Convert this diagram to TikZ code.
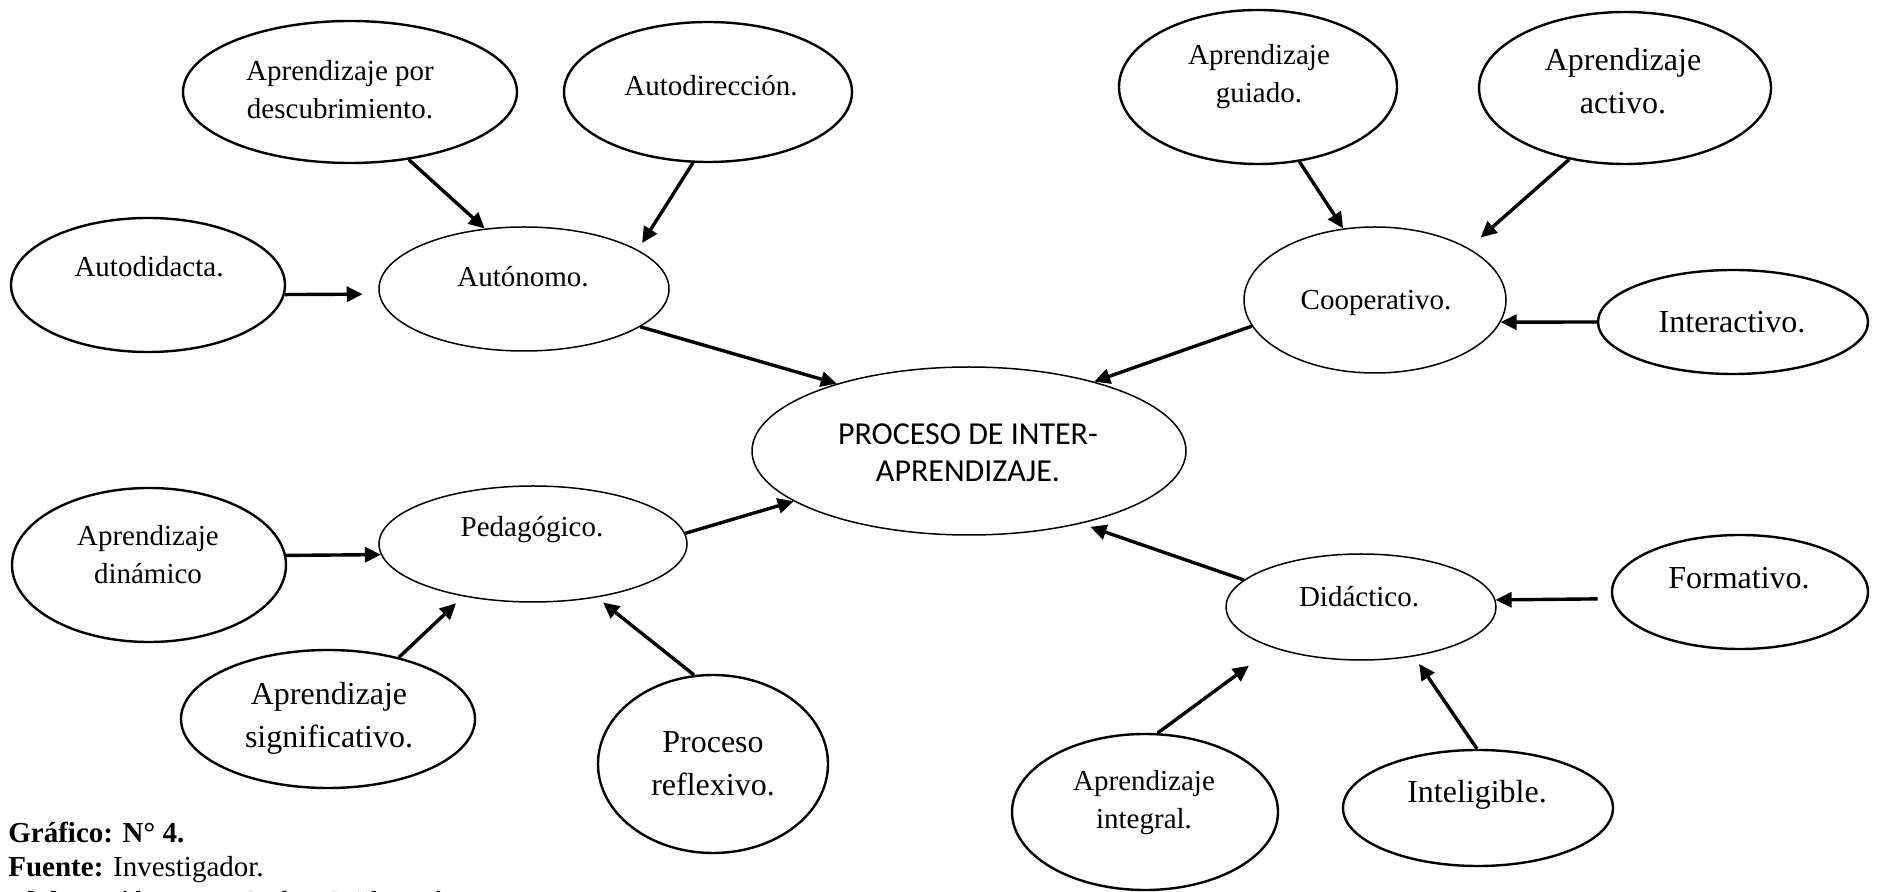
\documentclass[tikz,border=0pt]{standalone}
\usepackage{fontspec}
\setmainfont{Liberation Serif}
\newfontfamily\calib{Carlito}
\usetikzlibrary{shapes.geometric,arrows.meta}
\begin{document}
\begin{tikzpicture}[x=0.5pt,y=-0.5pt,
  ell/.style={draw, ellipse, inner sep=0pt, line width=1.2pt},
  ellthin/.style={ell, line width=0.75pt},
  lbl/.style={align=center, font=\fontsize{14.5}{19}\selectfont, inner sep=0pt},
  lblbig/.style={align=center, font=\fontsize{16}{21.5}\selectfont, inner sep=0pt},
  captext/.style={anchor=base west, inner sep=0pt, font=\fontsize{14.5}{17}\selectfont},
  arr/.style={line width=1.7pt, -{Triangle[length=8pt,width=7.5pt]}},
]
\fill[white] (0,0) rectangle (1881,892);
\useasboundingbox (0,0) rectangle (1881,892);

% ellipses
\node[ell, minimum width=167pt, minimum height=71pt] (desc) at (350,92) {};
\node[ell, minimum width=144pt, minimum height=70pt] (autodir) at (708,92) {};
\node[ell, minimum width=137pt, minimum height=67pt] (autodid) at (148,285) {};
\node[ellthin, minimum width=145pt, minimum height=62pt] (auto) at (524,289) {};
\node[ell, minimum width=139pt, minimum height=77pt] (guiado) at (1258,87) {};
\node[ell, minimum width=146pt, minimum height=76pt] (activo) at (1625,88) {};
\node[ellthin, minimum width=131pt, minimum height=73pt] (coop) at (1375,300) {};
\node[ell, minimum width=135pt, minimum height=52pt] (inter) at (1733,322) {};
\node[ellthin, minimum width=217pt, minimum height=84pt] (centro) at (969,451) {};
\node[ell, minimum width=137pt, minimum height=77pt] (din) at (149,565) {};
\node[ellthin, minimum width=154pt, minimum height=58pt] (ped) at (533,544) {};
\node[ell, minimum width=147pt, minimum height=69pt] (sig) at (328,719) {};
\node[ell, minimum width=115pt, minimum height=89pt] (refl) at (713,764) {};
\node[ellthin, minimum width=135pt, minimum height=53pt] (did) at (1361,607) {};
\node[ell, minimum width=128pt, minimum height=57pt] (form) at (1740,592) {};
\node[ell, minimum width=133pt, minimum height=78pt] (integ) at (1145,812) {};
\node[ell, minimum width=135pt, minimum height=58pt] (intel) at (1478,808) {};

% texts
\node[lbl] (desc-t) at (340,90) {Aprendizaje por\\descubrimiento.};
\node[lbl] (autodir-t) at (711,86) {Autodirección.};
\node[lbl] (autodid-t) at (149,267) {Autodidacta.};
\node[lbl] (auto-t) at (523,277) {Autónomo.};
\node[lbl] (guiado-t) at (1259,77) {Aprendizaje\\guiado.};
\node[lblbig] (activo-t) at (1623,81) {Aprendizaje\\activo.};
\node[lbl] (coop-t) at (1376,303) {Cooperativo.};
\node[lblbig] (inter-t) at (1732,322) {Interactivo.};
\node[align=center, inner sep=0pt, font=\calib\fontsize{16}{18.5}\selectfont] (centro-t) at (968,453) {PROCESO DE INTER-\\APRENDIZAJE.};
\node[lbl] (din-t) at (148,555) {Aprendizaje\\dinámico};
\node[lbl] (ped-t) at (532,530) {Pedagógico.};
\node[lblbig] (sig-t) at (329,718) {Aprendizaje\\significativo.};
\node[lblbig] (refl-t) at (713,764) {Proceso\\reflexivo.};
\node[lbl] (did-t) at (1359,597) {Didáctico.};
\node[lblbig] (form-t) at (1739,578) {Formativo.};
\node[lbl] (integ-t) at (1144,803) {Aprendizaje\\integral.};
\node[lblbig] (intel-t) at (1477,795) {Inteligible.};

% arrows
\draw[arr] (desc.-49) -- (auto.123);
\draw[arr, shorten >=4pt] (autodir.-102) -- (auto.19);
\draw[arr, shorten >=8pt] (autodid.-4) -- (auto.182);
\draw[arr] (auto.-18) -- (centro.153);
\draw[arr] (coop.192) -- (centro.29);
\draw[arr] (guiado.-61) -- (coop.114);
\draw[arr, shorten >=8pt] (activo.-128) -- (coop.29.5);
\draw[arr] (inter.180) -- (coop.-10);
\draw[arr] (din.4) -- (ped.184);
\draw[arr] (ped.4) -- (centro.196);
\draw[arr, shorten >=5pt] (did.167) -- (centro.-33);
\draw[arr, shorten <=7pt] (form.183) -- (did.3);
\draw[arr, shorten >=15pt] (integ.81) -- (did.-155);
\draw[arr, shorten >=4.5pt] (intel.91) -- (did.-43);
\draw[arr, shorten >=5pt] (sig.41) -- (ped.-143);
\draw[arr, shorten >=4pt] (refl.102) -- (ped.-40);

% caption
\node[captext] (cap1) at (8,842) {\textbf{Gráfico: N° 4.}};
\node[captext] (cap2) at (8,877) {\textbf{Fuente:} Investigador.};
\node[captext] (cap3) at (8,912) {\textbf{Elaboración:} Juan Carlos Cajila Ezá};
\end{tikzpicture}
\end{document}
